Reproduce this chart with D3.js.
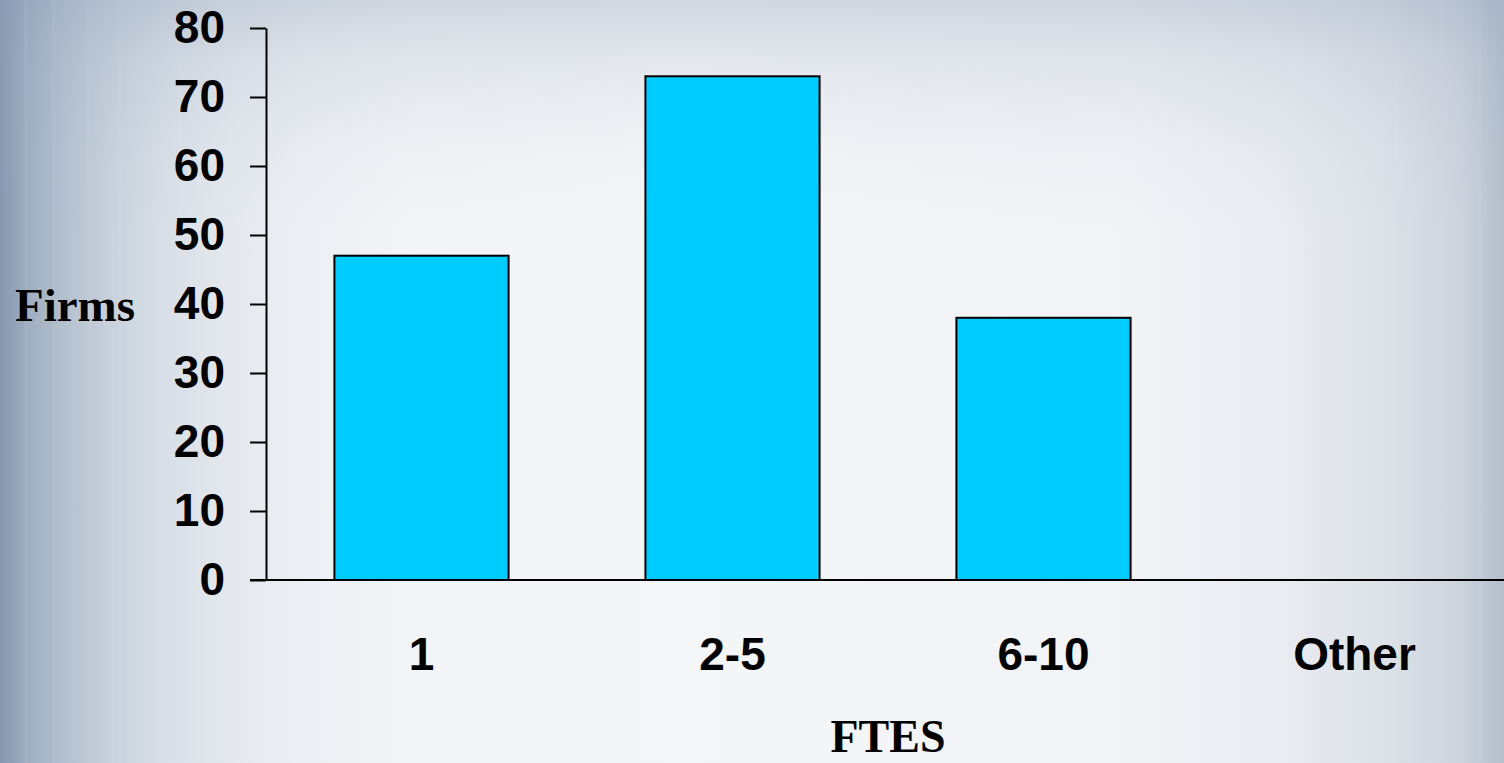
<!DOCTYPE html>
<html>
<head>
<meta charset="utf-8">
<script src="https://cdn.jsdelivr.net/npm/d3@7"></script>
<style>
  html, body { margin: 0; padding: 0; overflow: hidden; }
  svg { display: block; }
</style>
</head>
<body>
<script>
const categories = ["1", "2-5", "6-10", "Other"];
const firms = [47, 73, 38, 0];
const yTicks = [0, 10, 20, 30, 40, 50, 60, 70, 80];
const yTitle = "Firms";
const xTitle = "FTES";

const W = 1504, H = 763;
const margin = { left: 266, right: -6, top: 28, bottom: 183 };
const plotBottom = H - margin.bottom;

const svg = d3.select("body").append("svg").attr("width", W).attr("height", H);
const defs = svg.append("defs");

// Background gradients
const hg = defs.append("linearGradient").attr("id", "bgH").attr("x1", 0).attr("x2", 1).attr("y1", 0).attr("y2", 0);
[[0, "#8698b0"], [0.02, "#a0afc2"], [0.045, "#b6c2d0"], [0.075, "#c9d2dd"], [0.11, "#d8dfe7"],
 [0.15, "#e4e8ee"], [0.2, "#eceff3"], [0.27, "#f2f4f6"], [0.45, "#f5f6f8"], [0.75, "#f1f3f6"],
 [0.85, "#e9ecf1"], [0.92, "#dde2e9"], [0.97, "#cdd4de"], [1, "#b4bfcc"]]
  .forEach(([o, c]) => hg.append("stop").attr("offset", o).attr("stop-color", c));
const vg = defs.append("linearGradient").attr("id", "bgV").attr("x1", 0).attr("x2", 0).attr("y1", 0).attr("y2", 1);
[[0, "rgba(140,158,182,0.35)"], [0.08, "rgba(150,166,188,0.18)"], [0.2, "rgba(160,175,195,0.05)"], [0.3, "rgba(160,175,195,0)"]]
  .forEach(([o, c]) => vg.append("stop").attr("offset", o).attr("stop-color", c));

svg.append("rect").attr("width", W).attr("height", H).attr("fill", "url(#bgH)");
svg.append("rect").attr("width", W).attr("height", H).attr("fill", "url(#bgV)");

// subtle vertical stripes at the edges
const stripes = [[24, 4, 0.06], [52, 3, 0.05], [86, 5, 0.04], [118, 3, 0.04], [178, 4, 0.03], [1395, 3, 0.03], [1440, 4, 0.04], [1478, 3, 0.05]];
svg.append("g").selectAll("rect").data(stripes).join("rect")
  .attr("x", d => d[0]).attr("width", d => d[1]).attr("y", 0).attr("height", H)
  .attr("fill", "#ffffff").attr("opacity", d => d[2]);

const x = d3.scaleBand().domain(categories)
  .range([margin.left, W - margin.right])
  .paddingInner(0.44).paddingOuter(0.22);
const y = d3.scaleLinear().domain([0, 80]).range([plotBottom, margin.top]);

// Bars
svg.append("g").selectAll("rect").data(categories.map((c, i) => ({ c, v: firms[i] })).filter(d => d.v > 0))
  .join("rect")
  .attr("x", d => x(d.c))
  .attr("width", x.bandwidth())
  .attr("y", d => y(d.v))
  .attr("height", d => y(0) - y(d.v))
  .attr("fill", "#00ccff")
  .attr("stroke", "#000")
  .attr("stroke-width", 2);

// Y axis
const yAxis = svg.append("g").attr("transform", `translate(${margin.left},0)`)
  .call(d3.axisLeft(y).tickValues(yTicks).tickSize(16).tickSizeOuter(0).tickPadding(25));
yAxis.select(".domain").attr("stroke", "#000").attr("stroke-width", 2);
yAxis.selectAll(".tick line").attr("stroke", "#000").attr("stroke-width", 2);
yAxis.selectAll(".tick text")
  .attr("font-family", "'Liberation Sans', Arial, sans-serif")
  .attr("font-weight", "bold").attr("font-size", 46).attr("fill", "#000");

// X axis
const xAxis = svg.append("g").attr("transform", `translate(0,${plotBottom})`)
  .call(d3.axisBottom(x).tickSize(0).tickSizeOuter(0).tickPadding(57));
xAxis.select(".domain").attr("d", `M${margin.left - 16},0H${W}`).attr("stroke", "#000").attr("stroke-width", 2);
xAxis.selectAll(".tick text")
  .attr("font-family", "'Liberation Sans', Arial, sans-serif")
  .attr("font-weight", "bold").attr("font-size", 46).attr("fill", "#000");

// Axis titles
svg.append("text")
  .attr("x", 75).attr("y", y(40) + 17)
  .attr("text-anchor", "middle")
  .attr("font-family", "'Liberation Serif', 'Times New Roman', serif")
  .attr("font-weight", "bold").attr("font-size", 47).attr("fill", "#000")
  .text(yTitle);

svg.append("text")
  .attr("x", (x.range()[0] + x.range()[1]) / 2).attr("y", 752)
  .attr("text-anchor", "middle")
  .attr("font-family", "'Liberation Serif', 'Times New Roman', serif")
  .attr("font-weight", "bold").attr("font-size", 46).attr("fill", "#000")
  .text(xTitle);
</script>
</body>
</html>
